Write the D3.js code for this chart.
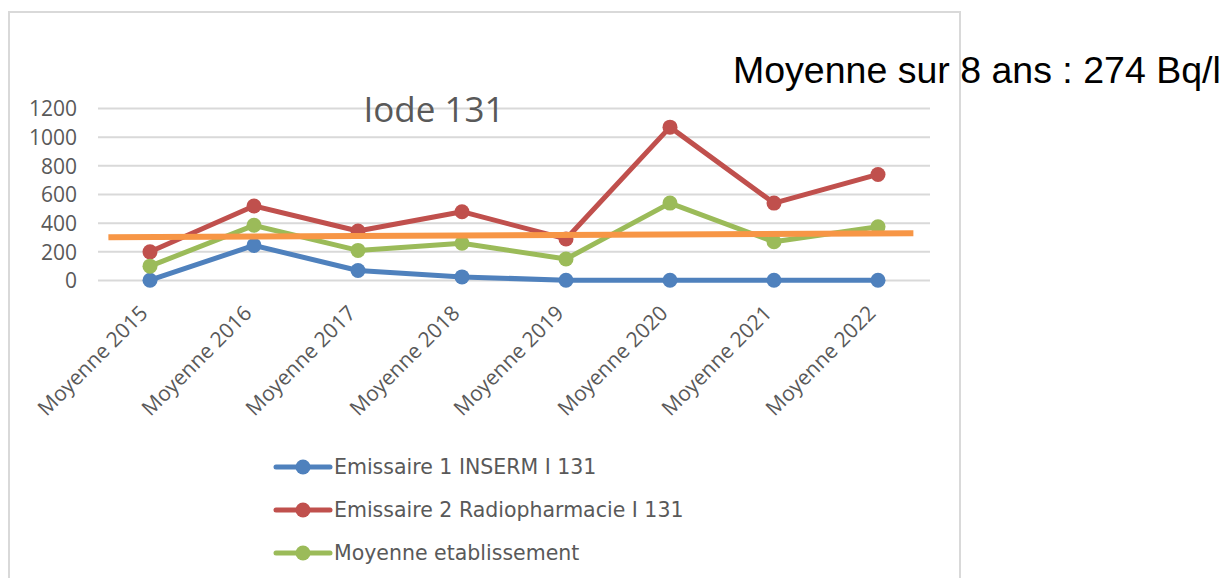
<!DOCTYPE html>
<html>
<head>
    <meta charset="utf-8">
    <style>
        body {
            margin: 0;
            background-color: #ffffff;
        }

        .grid line {
            stroke: #d9d9d9;
            stroke-width: 2px;
        }

        .axis text {
            font-family: "Open Sans", sans-serif;
            fill: #595959;
        }

        .legend text {
            font-family: "DejaVu Sans", sans-serif;
            font-size: 20.5px;
            fill: #595959;
        }
    </style>
</head>
<body>
    <div id="chart"></div>

    <script src="https://d3js.org/d3.v7.min.js"></script>
    <script>
        // categories and values
        var years = ["Moyenne 2015", "Moyenne 2016", "Moyenne 2017", "Moyenne 2018",
                     "Moyenne 2019", "Moyenne 2020", "Moyenne 2021", "Moyenne 2022"];
        var inserm = [2, 245, 70, 25, 2, 2, 2, 2];
        var radiopharmacie = [200, 520, 345, 480, 290, 1070, 540, 740];
        var moyenneEtab = [100, 385, 210, 260, 150, 540, 270, 375];
        var yTicks = [0, 200, 400, 600, 800, 1000, 1200];
        // orange line: [position in category steps, value]
        var moyenneLine = [[-0.4, 302], [7.34, 330]];

        var series = [
            {name: "Emissaire 1 INSERM I 131", values: inserm, color: "#4f81bd"},
            {name: "Emissaire 2 Radiopharmacie I 131", values: radiopharmacie, color: "#c0504d"},
            {name: "Moyenne etablissement", values: moyenneEtab, color: "#9bbb59"}
        ];

        var W = 1223, H = 578;
        var svg = d3.select("#chart").append("svg")
            .attr("width", W)
            .attr("height", H);

        // chart frame
        svg.append("rect")
            .attr("x", 9).attr("y", 12)
            .attr("width", 951).attr("height", 600)
            .attr("fill", "none")
            .attr("stroke", "#d9d9d9")
            .attr("stroke-width", 2);

        var plotLeft = 98, plotRight = 930, plotTop = 108.5, plotBottom = 280.5;

        var x = d3.scaleBand().domain(years).range([plotLeft, plotRight]);
        var xStep = d3.scaleLinear().domain([0, 7])
            .range([plotLeft + x.bandwidth() / 2, plotRight - x.bandwidth() / 2]);
        var y = d3.scaleLinear().domain([0, 1200]).range([plotBottom, plotTop]);

        // gridlines
        svg.append("g").attr("class", "grid")
            .selectAll("line").data(yTicks).enter().append("line")
            .attr("x1", plotLeft).attr("x2", plotRight)
            .attr("y1", function(d) { return y(d); })
            .attr("y2", function(d) { return y(d); });

        // y axis labels
        var yAxis = d3.axisLeft(y).tickValues(yTicks).tickSize(0).tickPadding(21)
            .tickFormat(d3.format("d"));
        svg.append("g").attr("class", "axis")
            .attr("transform", "translate(" + plotLeft + ",0)")
            .call(yAxis)
            .call(function(g) { g.select(".domain").remove(); })
            .selectAll("text")
            .style("font-size", "21px")
            .attr("dy", "0.35em");

        // x axis labels, rotated
        var xAxis = d3.axisBottom(x).tickSize(0).tickPadding(0);
        svg.append("g").attr("class", "axis")
            .attr("transform", "translate(0," + plotBottom + ")")
            .call(xAxis)
            .call(function(g) { g.select(".domain").remove(); })
            .selectAll("text")
            .style("font-size", "21px")
            .style("text-anchor", "end")
            .attr("y", 0)
            .attr("dy", 0)
            .attr("transform", "translate(-1,34) rotate(-45)");

        // title
        svg.append("text")
            .attr("x", 434).attr("y", 122)
            .attr("text-anchor", "middle")
            .style("font-family", "'Open Sans', sans-serif")
            .style("font-size", "35px")
            .style("fill", "#595959")
            .text("Iode 131");

        var line = d3.line()
            .x(function(d, i) { return x(years[i]) + x.bandwidth() / 2; })
            .y(function(d) { return y(d); });

        series.forEach(function(s) {
            svg.append("path")
                .attr("d", line(s.values))
                .attr("fill", "none")
                .attr("stroke", s.color)
                .attr("stroke-width", 5)
                .attr("stroke-linejoin", "round")
                .attr("stroke-linecap", "round");
            svg.selectAll(null).data(s.values).enter().append("circle")
                .attr("cx", function(d, i) { return x(years[i]) + x.bandwidth() / 2; })
                .attr("cy", function(d) { return y(d); })
                .attr("r", 7.5)
                .attr("fill", s.color);
        });

        // orange average line
        svg.append("path")
            .attr("d", d3.line()
                .x(function(d) { return xStep(d[0]); })
                .y(function(d) { return y(d[1]); })(moyenneLine))
            .attr("fill", "none")
            .attr("stroke", "#f79646")
            .attr("stroke-width", 6);

        // legend
        var legend = svg.append("g").attr("class", "legend");
        series.forEach(function(s, i) {
            var ly = 467 + i * 43;
            legend.append("line")
                .attr("x1", 276).attr("x2", 330)
                .attr("y1", ly).attr("y2", ly)
                .attr("stroke", s.color)
                .attr("stroke-width", 5)
                .attr("stroke-linecap", "round");
            legend.append("circle")
                .attr("cx", 303).attr("cy", ly).attr("r", 7.5)
                .attr("fill", s.color);
            legend.append("text")
                .attr("x", 334).attr("y", ly)
                .attr("dy", "0.35em")
                .text(s.name);
        });

        // annotation
        svg.append("text")
            .attr("x", 733).attr("y", 83)
            .style("font-family", "'Liberation Sans', Arial, sans-serif")
            .style("font-size", "37.5px")
            .style("fill", "#000000")
            .text("Moyenne sur 8 ans : 274 Bq/l");
    </script>
</body>
</html>
